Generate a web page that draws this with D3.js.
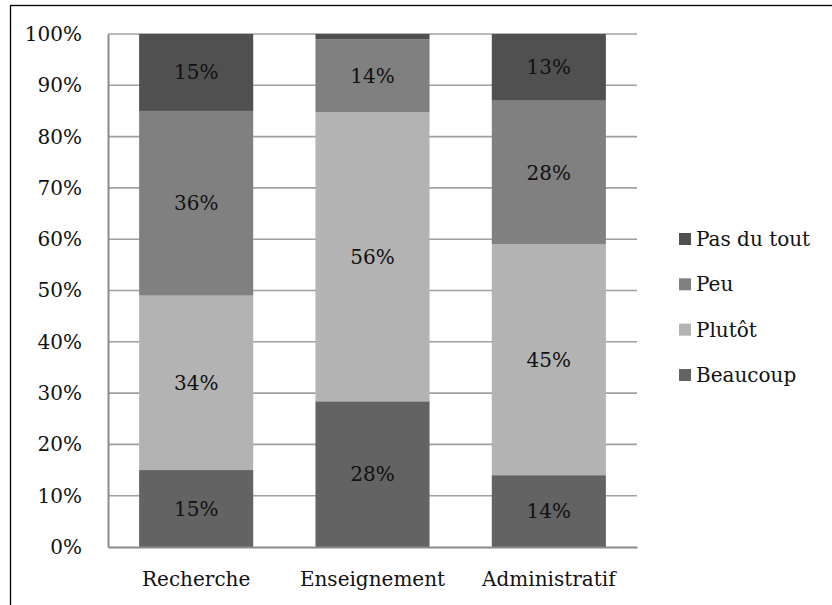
<!DOCTYPE html>
<html><head><meta charset="utf-8">
<script src="https://cdn.jsdelivr.net/npm/d3@7"></script>
<style>
html,body{margin:0;padding:0;background:#fff;}
svg{display:block;}
text{font-family:"DejaVu Serif",serif;}
</style></head>
<body>
<svg id="chart" width="832" height="605"></svg>
<script>
const categories = ["Recherche", "Enseignement", "Administratif"];
const seriesNames = ["Beaucoup", "Plutôt", "Peu", "Pas du tout"];
const beaucoup  = [15, 28.4, 14];
const plutot    = [34, 56.4, 45];
const peu       = [36, 14.2, 28];
const pasDuTout = [15, 1.0, 13];
const yTicks = [0, 10, 20, 30, 40, 50, 60, 70, 80, 90, 100];
const colors = ["#636363", "#b3b3b3", "#808080", "#505050"];

const seriesValues = [beaucoup, plutot, peu, pasDuTout];
const rows = categories.map((c, i) => {
  const r = {cat: c};
  seriesNames.forEach((s, j) => r[s] = seriesValues[j][i]);
  return r;
});

const svg = d3.select("#chart");
const fontSize = 20;

// outer frame
svg.append("rect").attr("x", 10.5).attr("y", 5.5).attr("width", 900).attr("height", 700)
  .attr("fill", "none").attr("stroke", "#000").attr("stroke-width", 1.3);

const x = d3.scaleBand().domain(categories).range([108, 637]).paddingInner(0.353).paddingOuter(0.1765);
const y = d3.scaleLinear().domain([0, 100]).range([547, 34]);

// gridlines
svg.append("g").selectAll("line").data(yTicks.filter(t => t > 0)).join("line")
  .attr("x1", 108).attr("x2", 637)
  .attr("y1", d => y(d)).attr("y2", d => y(d))
  .attr("stroke", "#a0a0a0").attr("stroke-width", 1.6);

// y axis
const yAxis = d3.axisLeft(y).tickValues(yTicks).tickFormat(d => d + "%").tickSize(0).tickPadding(26);
const gy = svg.append("g").attr("transform", "translate(108,0)").call(yAxis);
gy.select(".domain").attr("stroke", "#8a8a8a").attr("stroke-width", 2);
gy.selectAll("text").attr("font-size", fontSize).attr("fill", "#111").attr("font-family", "DejaVu Serif");

// stacked bars
const stack = d3.stack().keys(seriesNames);
const layers = stack(rows);
const g = svg.append("g");
layers.forEach((layer, j) => {
  g.append("g").selectAll("rect").data(layer).join("rect")
    .attr("x", d => x(d.data.cat))
    .attr("width", x.bandwidth())
    .attr("y", d => y(d[1]))
    .attr("height", d => y(d[0]) - y(d[1]))
    .attr("fill", colors[j]);
});
layers.forEach((layer, j) => {
  g.append("g").selectAll("text").data(layer.filter(d => d[1] - d[0] >= 5)).join("text")
    .attr("x", d => x(d.data.cat) + x.bandwidth() / 2)
    .attr("y", d => y((d[0] + d[1]) / 2))
    .attr("dy", "0.35em")
    .attr("text-anchor", "middle")
    .attr("font-size", fontSize)
    .attr("fill", "#111")
    .text(d => Math.round(d[1] - d[0]) + "%");
});

// x axis
const xAxis = d3.axisBottom(x).tickSize(0).tickPadding(25);
const gx = svg.append("g").attr("transform", "translate(0,547)").call(xAxis);
gx.select(".domain").attr("stroke", "#8a8a8a").attr("stroke-width", 2);
gx.selectAll("text").attr("font-size", fontSize).attr("fill", "#111").attr("font-family", "DejaVu Serif");

// legend
const legendOrder = ["Pas du tout", "Peu", "Plutôt", "Beaucoup"];
const legendY = d3.scalePoint().domain(legendOrder).range([239, 375]);
const lg = svg.append("g");
legendOrder.forEach(name => {
  const j = seriesNames.indexOf(name);
  const cy = legendY(name);
  lg.append("rect").attr("x", 679).attr("y", cy - 6).attr("width", 12).attr("height", 12).attr("fill", colors[j]);
  lg.append("text").attr("x", 696).attr("y", cy).attr("dy", "0.35em")
    .attr("font-size", fontSize).attr("fill", "#111").text(name);
});
</script>
</body></html>
